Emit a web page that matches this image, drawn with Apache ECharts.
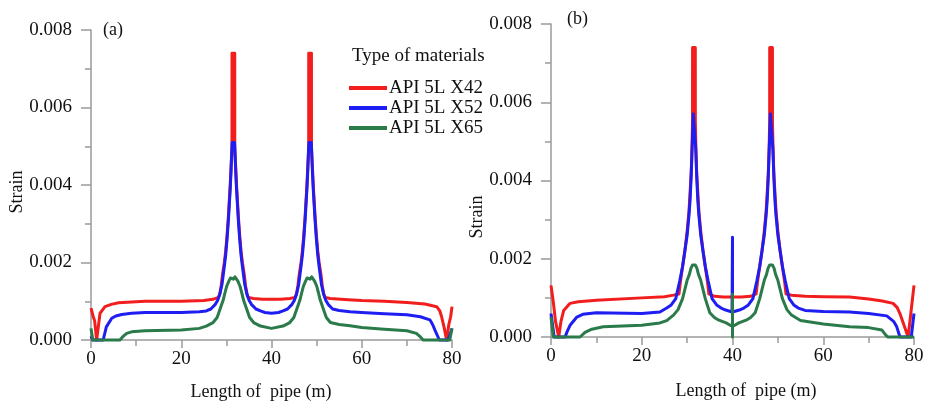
<!DOCTYPE html>
<html>
<head>
<meta charset="utf-8">
<script src="https://cdn.jsdelivr.net/npm/echarts@6/dist/echarts.min.js"></script>
<style>
html,body{margin:0;padding:0;background:#fff;}
#c{width:929px;height:406px;}
</style>
</head>
<body>
<div id="c"></div>
<script>
// ---------- data (x in m, strain) ----------
const seriesNames = ['API 5L X42', 'API 5L X52', 'API 5L X65'];
const xTicks = [0, 20, 40, 60, 80];
const yTicks = [0, 0.002, 0.004, 0.006, 0.008];

// Panel (a)
const redA = [[0,0.00082],[0.5,0.0006],[0.8,0.0005],[1.25,0],[2.0,0.00069],[3.1,0.00086],[4.5,0.00092],[6.1,0.00096],[9,0.00098],[12,0.001],[20,0.001],[25,0.00102],[27,0.00105],[28.25,0.0011],[28.55,0.0012],[28.85,0.0014],[29.15,0.0017],[29.55,0.002],[29.85,0.0023],[30.15,0.0027],[30.45,0.0032],[30.65,0.0036],[30.85,0.004],[31.05,0.0045],[31.24,0.0049],[31.25,0.0074],[31.85,0.0074],[31.86,0.0049],[32.05,0.0045],[32.25,0.004],[32.45,0.0036],[32.65,0.0032],[32.95,0.0027],[33.25,0.0023],[33.55,0.002],[33.95,0.0017],[34.25,0.0014],[34.55,0.0012],[34.85,0.0011],[36,0.00107],[38,0.00105],[40,0.00105],[42,0.00105],[44.1,0.00107],[45.25,0.0011],[45.55,0.0012],[45.85,0.0014],[46.15,0.0017],[46.55,0.002],[46.85,0.0023],[47.15,0.0027],[47.45,0.0032],[47.65,0.0036],[47.85,0.004],[48.05,0.0045],[48.24,0.0049],[48.25,0.0074],[48.85,0.0074],[48.86,0.0049],[49.05,0.0045],[49.25,0.004],[49.45,0.0036],[49.65,0.0032],[49.95,0.0027],[50.25,0.0023],[50.55,0.002],[50.95,0.0017],[51.25,0.0014],[51.55,0.0012],[51.85,0.0011],[53,0.00107],[57,0.00104],[60,0.00102],[65,0.001],[70,0.00097],[74,0.00093],[76.6,0.00086],[77.3,0.00075],[77.7,0.0006],[78.3,0.0003],[78.8,0],[79.3,0.0004],[79.7,0.0006],[80,0.00086]];
const blueA = [[0,0.0001],[0.4,0],[2.7,0],[3.4,0.00034],[4.6,0.00056],[5.5,0.00062],[6.8,0.00066],[9,0.00069],[12,0.00071],[20,0.00071],[24,0.00073],[25.55,0.00075],[26.55,0.0008],[27.55,0.00092],[28.05,0.00102],[28.55,0.00118],[29.05,0.00145],[29.55,0.0019],[29.85,0.0022],[30.15,0.0026],[30.45,0.0031],[30.65,0.0035],[30.85,0.0039],[31.05,0.0044],[31.2,0.0049],[31.3,0.0051],[31.8,0.0051],[31.9,0.0049],[32.05,0.0044],[32.25,0.0039],[32.45,0.0035],[32.65,0.0031],[32.95,0.0026],[33.25,0.0022],[33.55,0.0019],[34.05,0.00145],[34.55,0.00118],[35.05,0.00102],[35.55,0.00092],[36.55,0.0008],[37.55,0.00075],[38.55,0.00071],[40,0.00069],[41.55,0.00071],[42.55,0.00075],[43.55,0.0008],[44.55,0.00092],[45.05,0.00102],[45.55,0.00118],[46.05,0.00145],[46.55,0.0019],[46.85,0.0022],[47.15,0.0026],[47.45,0.0031],[47.65,0.0035],[47.85,0.0039],[48.05,0.0044],[48.2,0.0049],[48.3,0.0051],[48.8,0.0051],[48.9,0.0049],[49.05,0.0044],[49.25,0.0039],[49.45,0.0035],[49.65,0.0031],[49.95,0.0026],[50.25,0.0022],[50.55,0.0019],[51.05,0.00145],[51.55,0.00118],[52.05,0.00102],[52.55,0.00092],[53.55,0.0008],[55,0.00076],[57.4,0.00073],[60,0.00071],[65,0.00068],[70,0.00065],[73,0.0006],[75.1,0.00052],[75.7,0.0004],[76.2,0.00026],[77.2,0],[79.1,0],[79.6,0.00015],[80,0.0003]];
const greenA = [[0,0.0003],[0.4,0],[6.4,0],[7,0.00008],[7.9,0.00017],[9,0.00021],[12,0.00024],[20,0.00026],[24,0.0003],[25.55,0.00036],[27.05,0.00045],[27.95,0.00058],[28.55,0.00078],[29.3,0.00103],[29.65,0.0012],[30.05,0.00138],[30.55,0.00152],[30.9,0.0016],[31.2,0.00163],[31.55,0.00157],[31.9,0.00163],[32.2,0.0016],[32.55,0.00152],[33.05,0.00138],[33.45,0.0012],[33.8,0.00103],[34.55,0.00078],[35.15,0.00058],[36.05,0.00045],[37.55,0.00036],[40,0.0003],[42.55,0.00036],[44.05,0.00045],[44.95,0.00058],[45.55,0.00078],[46.3,0.00103],[46.65,0.0012],[47.05,0.00138],[47.55,0.00152],[47.9,0.0016],[48.2,0.00163],[48.55,0.00157],[48.9,0.00163],[49.2,0.0016],[49.55,0.00152],[50.05,0.00138],[50.45,0.0012],[50.8,0.00103],[51.55,0.00078],[52.15,0.00058],[53.05,0.00045],[55,0.0004],[57.4,0.00037],[60,0.00032],[65,0.00028],[70,0.00024],[72.1,0.00017],[73,0.00008],[73.6,0],[79.5,0],[80,0.0003]];

// Panel (b)
const redB = [[0,0.00132],[0.5,0.0009],[1.0,0.0004],[1.7,0],[2.2,0.0004],[2.8,0.00068],[4.2,0.00086],[6,0.0009],[10,0.00094],[20,0.001],[25,0.00103],[27,0.00107],[28.2,0.0011],[28.5,0.0014],[29.0,0.0018],[29.5,0.0022],[30.0,0.0027],[30.4,0.0032],[30.7,0.0038],[30.9,0.0042],[31.1,0.005],[31.19,0.0055],[31.2,0.0074],[31.8,0.0074],[31.81,0.0055],[31.9,0.005],[32.1,0.0042],[32.3,0.0038],[32.6,0.0032],[33.0,0.0027],[33.5,0.0022],[34.0,0.0018],[34.5,0.0014],[34.8,0.0011],[36,0.00104],[38,0.00102],[40,0.00102],[42,0.00102],[44,0.00104],[45.2,0.0011],[45.5,0.0014],[46,0.0018],[46.5,0.0022],[47,0.0027],[47.4,0.0032],[47.7,0.0038],[47.9,0.0042],[48.1,0.005],[48.19,0.0055],[48.2,0.0074],[48.8,0.0074],[48.81,0.0055],[48.9,0.005],[49.1,0.0042],[49.3,0.0038],[49.6,0.0032],[50,0.0027],[50.5,0.0022],[51,0.0018],[51.5,0.0014],[51.8,0.0011],[53,0.00107],[56,0.00104],[60,0.00103],[65.8,0.00102],[70,0.00097],[73,0.00092],[75.4,0.00086],[76.3,0.00075],[76.9,0.0006],[77.8,0.0003],[78.7,0],[79.3,0.0006],[80,0.00132]];
const blueB = [[0,0.0006],[0.7,0],[3.1,0],[3.6,0.00015],[4.2,0.0003],[5.7,0.00051],[7,0.00058],[10,0.00062],[20,0.0006],[24,0.00064],[25.5,0.00074],[26.5,0.00082],[27.5,0.00098],[28.4,0.00145],[29,0.0018],[29.5,0.0022],[30,0.0026],[30.4,0.0031],[30.65,0.0035],[30.85,0.004],[31.1,0.0048],[31.35,0.0057],[31.65,0.0057],[31.9,0.0048],[32.15,0.004],[32.35,0.0035],[32.6,0.0031],[33,0.0026],[33.5,0.0022],[34,0.0018],[34.6,0.00145],[35.5,0.00098],[36.5,0.00082],[37.5,0.00074],[38.5,0.00069],[39.9,0.00064],[40,0.00255],[40,0.00064],[40.1,0.00064],[41.5,0.00069],[42.5,0.00074],[43.5,0.00082],[44.5,0.00098],[45.4,0.00145],[46,0.0018],[46.5,0.0022],[47,0.0026],[47.4,0.0031],[47.65,0.0035],[47.85,0.004],[48.1,0.0048],[48.35,0.0057],[48.65,0.0057],[48.9,0.0048],[49.15,0.004],[49.35,0.0035],[49.6,0.0031],[50,0.0026],[50.5,0.0022],[51,0.0018],[51.6,0.00145],[52.5,0.00098],[53.5,0.00082],[54.5,0.00074],[56,0.00068],[60,0.00065],[65.8,0.00064],[70,0.0006],[74,0.00054],[75.5,0.0004],[76.2,0.00026],[76.9,0],[79.4,0],[80,0.0006]];
const greenB = [[0,0.00051],[0.5,0],[6.4,0],[7.5,0.00012],[9,0.0002],[11.5,0.00026],[20,0.0003],[24,0.00036],[25.5,0.00042],[27,0.00056],[28,0.0007],[29,0.00098],[30,0.00145],[30.5,0.0016],[30.85,0.00176],[31.2,0.00184],[31.8,0.00184],[32.15,0.00176],[32.5,0.0016],[33,0.00145],[34,0.00098],[35,0.00062],[36,0.0005],[37,0.00043],[38.6,0.00036],[39.5,0.0003],[40,0.00028],[40,0.0011],[40,0],[40,0.00028],[40.5,0.0003],[41.4,0.00036],[43,0.00043],[44,0.0005],[45,0.00062],[46,0.00098],[47,0.00145],[47.5,0.0016],[47.85,0.00176],[48.2,0.00184],[48.8,0.00184],[49.15,0.00176],[49.5,0.0016],[50,0.00145],[51,0.00098],[52,0.0007],[53,0.00056],[55,0.00042],[60,0.00033],[65.8,0.00026],[70,0.00024],[72.9,0.00018],[73.7,0.00006],[74.2,0],[80,0]];

const colors = ['#f21d1d', '#1e1ef2', '#2a7a4a'];

const chart = echarts.init(document.getElementById('c'), null, {renderer: 'canvas'});
const FONT = '"Liberation Serif", "Times New Roman", serif';

function xAxis(gi) {
  return {
    type: 'value', gridIndex: gi, min: xTicks[0], max: xTicks[xTicks.length - 1],
    interval: xTicks[1] - xTicks[0],
    axisLine: {show: true, onZero: false, lineStyle: {color: '#9a9a9a', width: 1.5}},
    axisTick: {show: true, length: 8, lineStyle: {color: '#9a9a9a', width: 1.5}},
    minorTick: {show: true, splitNumber: 2, length: 6, lineStyle: {color: '#9a9a9a', width: 1.5}},
    splitLine: {show: false},
    axisLabel: {color: '#111', fontFamily: FONT, fontSize: 19, margin: 10}
  };
}
function yAxis(gi) {
  return {
    type: 'value', gridIndex: gi, min: yTicks[0], max: yTicks[yTicks.length - 1],
    interval: yTicks[1] - yTicks[0],
    axisLine: {show: true, onZero: false, lineStyle: {color: '#9a9a9a', width: 1.5}},
    axisTick: {show: true, length: 10, lineStyle: {color: '#9a9a9a', width: 1.5}},
    minorTick: {show: true, splitNumber: 2, length: 6, lineStyle: {color: '#9a9a9a', width: 1.5}},
    splitLine: {show: false},
    axisLabel: {color: '#111', fontFamily: FONT, fontSize: 19, margin: 19,
      formatter: v => v.toFixed(3)}
  };
}
function line(name, data, gi, ci) {
  return {
    type: 'line', name: name, data: data, xAxisIndex: gi, yAxisIndex: gi,
    symbol: 'none', clip: false, animation: false,
    lineStyle: {color: colors[ci], width: 3, join: 'round'},
    itemStyle: {color: colors[ci]}
  };
}

chart.setOption({
  backgroundColor: '#fff',
  animation: false,
  grid: [
    {left: 91, right: 477, top: 30, bottom: 66},
    {left: 551, right: 15, top: 24, bottom: 69}
  ],
  xAxis: [xAxis(0), xAxis(1)],
  yAxis: [yAxis(0), yAxis(1)],
  legend: {
    data: seriesNames, orient: 'vertical', left: 349, top: 78, padding: 0,
    itemGap: 0, itemWidth: 38, itemHeight: 4, icon: 'rect',
    textStyle: {color: '#111', fontFamily: FONT, fontSize: 19, lineHeight: 20, padding: [0, 0, 0, -3]},
    selectedMode: false
  },
  series: [
    line(seriesNames[0], redA, 0, 0),
    line(seriesNames[1], blueA, 0, 1),
    line(seriesNames[2], greenA, 0, 2),
    line(seriesNames[0], redB, 1, 0),
    line(seriesNames[1], blueB, 1, 1),
    line(seriesNames[2], greenB, 1, 2)
  ],
  graphic: [
    {type: 'text', x: 103, y: 30, style: {text: '(a)', font: '18px ' + FONT, fill: '#111', textVerticalAlign: 'middle'}},
    {type: 'text', x: 567, y: 19, style: {text: '(b)', font: '18px ' + FONT, fill: '#111', textVerticalAlign: 'middle'}},
    {type: 'text', x: 352, y: 56, style: {text: 'Type of materials', font: '19px ' + FONT, fill: '#111', textVerticalAlign: 'middle'}},
    {type: 'text', x: 17, y: 192, rotation: Math.PI / 2, style: {text: 'Strain', font: '18px ' + FONT, fill: '#111', textAlign: 'center', textVerticalAlign: 'middle'}},
    {type: 'text', x: 477, y: 217, rotation: Math.PI / 2, style: {text: 'Strain', font: '18px ' + FONT, fill: '#111', textAlign: 'center', textVerticalAlign: 'middle'}},
    {type: 'text', x: 261, y: 392, style: {text: 'Length of  pipe (m)', font: '18px ' + FONT, fill: '#111', textAlign: 'center', textVerticalAlign: 'middle'}},
    {type: 'text', x: 746, y: 391, style: {text: 'Length of  pipe (m)', font: '18px ' + FONT, fill: '#111', textAlign: 'center', textVerticalAlign: 'middle'}}
  ]
});
</script>
</body>
</html>
